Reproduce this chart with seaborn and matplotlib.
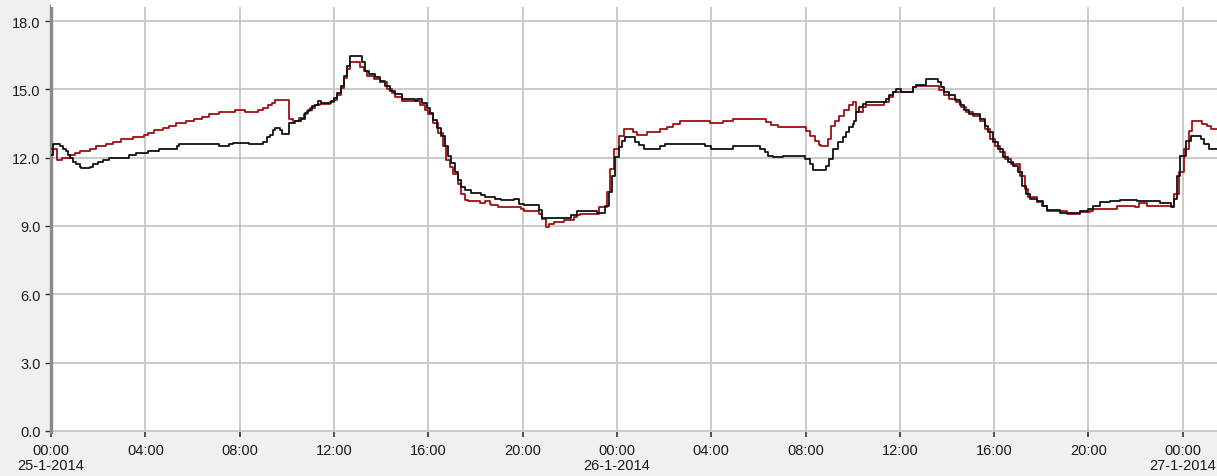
import matplotlib
matplotlib.use("Agg")
import matplotlib.pyplot as plt
from matplotlib.patches import Rectangle
import seaborn as sns
import pandas as pd

# ---- data (hours since 25-1-2014 00:00, temperature) ----
red_hours = [0.0, 0.24, 0.45, 0.8, 1.0, 1.22, 1.64, 1.92, 2.34, 2.62, 2.98, 3.47, 3.96, 4.1, 4.38,
             4.73, 5.01, 5.29, 5.71, 6.06, 6.41, 6.69, 7.12, 7.82, 8.24, 8.8, 9.01, 9.22, 9.36, 9.5,
             10.09, 10.27, 10.5, 10.75, 10.85, 11.0, 11.2, 11.4, 11.85, 12.0, 12.14, 12.28, 12.42,
             12.56, 12.7, 13.12, 13.26, 13.4, 13.68, 13.96, 14.25, 14.46, 14.6, 14.88, 15.65, 15.86,
             16.0, 16.21, 16.42, 16.63, 16.77, 16.91, 17.05, 17.26, 17.4, 17.54, 17.68, 18.18, 18.39,
             18.6, 18.67, 18.95, 19.93, 20.07, 20.7, 20.84, 20.98, 21.12, 21.33, 21.75, 22.18, 22.32,
             22.45, 23.23, 23.58, 23.72, 23.86, 24.07, 24.28, 24.7, 24.85, 25.27, 25.83, 26.11, 26.39,
             26.68, 27.94, 28.51, 28.93, 30.34, 30.55, 30.83, 32.03, 32.17, 32.38, 32.59, 32.66, 32.94,
             33.08, 33.23, 33.44, 33.65, 33.86, 34.0, 34.14, 34.42, 34.56, 35.34, 35.55, 35.69, 36.54,
             36.68, 37.68, 37.89, 38.1, 38.39, 38.6, 38.81, 39.1, 39.38, 39.59, 39.81, 40.02, 40.23,
             40.45, 40.73, 41.09, 41.3, 41.44, 41.8, 42.01, 42.22, 43.07, 43.64, 44.07, 44.21, 45.2,
             45.99, 46.13, 46.48, 47.62, 47.83, 48.05, 48.26, 48.4, 48.83, 49.04, 49.18, 49.6]
red_values = [12.4, 11.9, 12.0, 12.1, 12.2, 12.3, 12.4, 12.5, 12.6, 12.7, 12.8, 12.9, 13.0, 13.1, 13.2,
              13.3, 13.4, 13.5, 13.6, 13.7, 13.8, 13.9, 14.0, 14.1, 14.0, 14.1, 14.2, 14.3, 14.4, 14.55,
              13.7, 13.6, 13.75, 13.9, 14.05, 14.2, 14.3, 14.35, 14.45, 14.55, 14.75, 15.05, 15.5,
              15.9, 16.2, 16.0, 15.8, 15.6, 15.44, 15.3, 15.0, 14.85, 14.68, 14.48, 14.33, 14.11,
              13.9, 13.52, 13.08, 12.49, 11.9, 11.6, 11.3, 10.86, 10.42, 10.13, 10.08, 10.0, 10.08,
              9.98, 9.9, 9.83, 9.76, 9.65, 9.53, 9.3, 8.94, 9.09, 9.16, 9.24, 9.39, 9.46,
              9.51, 9.81, 10.47, 11.5, 12.38, 12.97, 13.26, 13.12, 13.0, 13.12, 13.24, 13.34, 13.49,
              13.59, 13.53, 13.59, 13.68, 13.56, 13.44, 13.34, 13.19, 12.97, 12.75, 12.56, 12.5, 12.82,
              13.41, 13.63, 13.85, 14.07, 14.29, 14.44, 14.0, 14.22, 14.29, 14.44, 14.66, 14.88, 15.1,
              15.15, 14.96, 14.74, 14.59, 14.44, 14.22, 14.0, 13.85, 13.63, 13.26, 12.82, 12.53, 12.24,
              11.94, 11.72, 11.21, 10.62, 10.25, 10.03, 9.88, 9.66, 9.51, 9.59, 9.66, 9.76, 9.88,
              9.81, 9.99, 9.88, 10.4, 11.35, 12.38, 13.19, 13.63, 13.49, 13.41, 13.24, 13.24]

black_hours = [0.0, 0.1, 0.38, 0.52, 0.63, 0.73, 0.8, 0.94, 1.08, 1.22, 1.29, 1.64, 1.78, 1.99, 2.2,
               2.48, 3.3, 3.6, 4.1, 4.6, 5.36, 5.43, 7.12, 7.54, 7.7, 8.38, 9.0, 9.15, 9.29, 9.43, 9.5,
               9.71, 9.78, 10.09, 10.35, 10.6, 10.76, 10.9, 11.05, 11.2, 11.33, 11.47, 11.86, 12.0,
               12.14, 12.28, 12.42, 12.56, 12.7, 13.19, 13.33, 13.47, 13.75, 13.96, 14.18, 14.39, 14.6,
               14.88, 15.44, 15.51, 15.72, 15.93, 16.07, 16.21, 16.35, 16.56, 16.7, 16.84, 16.98, 17.12,
               17.26, 17.4, 17.54, 17.82, 18.25, 18.39, 18.81, 19.09, 19.65, 19.86, 20.07, 20.7, 20.84,
               22.04, 22.32, 23.15, 23.5, 23.65, 23.79, 23.93, 24.07, 24.21, 24.35, 24.77, 24.92, 25.13,
               25.83, 26.04, 27.73, 28.01, 28.93, 30.06, 30.27, 30.41, 30.62, 31.04, 31.96, 32.17, 32.31,
               32.87, 33.01, 33.15, 33.37, 33.58, 33.72, 33.86, 34.0, 34.07, 34.14, 34.28, 34.42, 34.56,
               35.41, 35.55, 35.69, 35.83, 36.04, 36.54, 36.68, 37.11, 37.6, 37.75, 37.89, 38.1, 38.32,
               38.53, 38.74, 38.95, 39.38, 39.59, 39.74, 39.95, 40.16, 40.38, 40.59, 40.8, 41.01, 41.16,
               41.37, 41.51, 41.8, 42.08, 42.22, 42.79, 43.64, 44.0, 44.21, 44.49, 44.92, 45.35, 46.06,
               47.05, 47.48, 47.62, 47.76, 47.9, 48.12, 48.33, 48.76, 48.9, 49.11, 49.6]
black_values = [12.1, 12.6, 12.5, 12.4, 12.3, 12.1, 12.0, 11.8, 11.7, 11.6, 11.55, 11.6, 11.7, 11.8, 11.9,
                12.0, 12.1, 12.2, 12.3, 12.4, 12.5, 12.6, 12.5, 12.6, 12.65, 12.6, 12.7, 12.9, 13.0, 13.2, 13.3,
                13.2, 13.05, 13.5, 13.6, 13.7, 13.95, 14.1, 14.25, 14.33, 14.48, 14.4, 14.5, 14.63,
                14.85, 15.15, 15.6, 16.03, 16.45, 16.18, 15.8, 15.66, 15.52, 15.37, 15.15, 14.93, 14.78,
                14.56, 14.48, 14.56, 14.41, 14.19, 13.97, 13.67, 13.3, 12.93, 12.49, 12.05, 11.75, 11.38,
                11.0, 10.72, 10.57, 10.45, 10.35, 10.27, 10.2, 10.13, 10.18, 9.98, 9.9, 9.68, 9.34,
                9.5, 9.65, 9.56, 9.88, 10.47, 11.2, 12.01, 12.46, 12.75, 12.9, 12.7, 12.56, 12.38,
                12.5, 12.6, 12.5, 12.38, 12.5, 12.38, 12.24, 12.09, 12.01, 12.09, 11.94, 11.72, 11.45,
                11.65, 11.94, 12.38, 12.68, 12.9, 13.12, 13.34, 13.49, 13.63, 14.0, 14.22, 14.37, 14.44,
                14.59, 14.74, 14.88, 15.0, 14.88, 15.1, 15.2, 15.44, 15.32, 15.1, 14.88, 14.74, 14.51,
                14.29, 14.07, 13.93, 13.71, 13.41, 13.12, 12.68, 12.38, 12.01, 11.79, 11.65, 11.35, 10.76,
                10.4, 10.18, 10.1, 9.88, 9.7, 9.56, 9.66, 9.74, 9.88, 10.03, 10.1, 10.15, 10.1,
                10.0, 9.81, 10.18, 11.21, 12.09, 12.75, 12.97, 12.82, 12.6, 12.38, 12.38]

tick_hours = [0, 4, 8, 12, 16, 20, 24, 28, 32, 36, 40, 44, 48]
tick_labels = ["00:00\n25-1-2014", "04:00", "08:00", "12:00", "16:00", "20:00",
               "00:00\n26-1-2014", "04:00", "08:00", "12:00", "16:00", "20:00",
               "00:00\n27-1-2014"]
y_ticks = [0.0, 3.0, 6.0, 9.0, 12.0, 15.0, 18.0]

# ---- styling ----
sns.set_theme(style="white")
plt.rcParams['font.family'] = ['Liberation Sans', 'DejaVu Sans']

W, H = 1217, 477
fig = plt.figure(figsize=(W / 100, H / 100), dpi=100, facecolor='#f0f0f0')
# white strip above the plotting area (control background)
fig.patches.append(Rectangle((51 / W, 469 / H), 1 - 51 / W, 8 / H, transform=fig.transFigure,
                             facecolor='white', edgecolor='none', zorder=0))
ax = fig.add_axes([51 / W, 44.5 / H, (W - 51) / W, 425.5 / H])
ax.set_facecolor('white')

df_red = pd.DataFrame({"hour": red_hours, "value": red_values})
df_black = pd.DataFrame({"hour": black_hours, "value": black_values})

sns.lineplot(data=df_red, x="hour", y="value", ax=ax, color='#9e1010', lw=1.3,
             drawstyle='steps-post', estimator=None, sort=False, zorder=3)
sns.lineplot(data=df_black, x="hour", y="value", ax=ax, color='#111111', lw=1.3,
             drawstyle='steps-post', estimator=None, sort=False, zorder=4)

ax.set_xlim(0, 49.45)
ax.set_ylim(-0.03, 18.66)
ax.set_xticks(tick_hours)
ax.set_xticklabels(tick_labels, fontsize=10.5, color='#1c1c1c', linespacing=1.1)
ax.set_yticks(y_ticks)
ax.set_yticklabels([f"{v:.1f}" for v in y_ticks], fontsize=10.5, color='#1c1c1c')
ax.set_xlabel("")
ax.set_ylabel("")

ax.grid(True, color='#cacaca', lw=1.4)
ax.set_axisbelow(True)

for s in ['top', 'right', 'bottom']:
    ax.spines[s].set_visible(False)
ax.spines['left'].set_color('#8a8a8a')
ax.spines['left'].set_linewidth(2.4)

ax.tick_params(axis='y', which='major', left=True, length=4.5, width=1.0, color='#333333', pad=3)
ax.tick_params(axis='x', which='major', bottom=True, length=3.5, width=1.2, color='#333333', pad=4.5)

fig.savefig("out.png", dpi=100, facecolor=fig.get_facecolor())
